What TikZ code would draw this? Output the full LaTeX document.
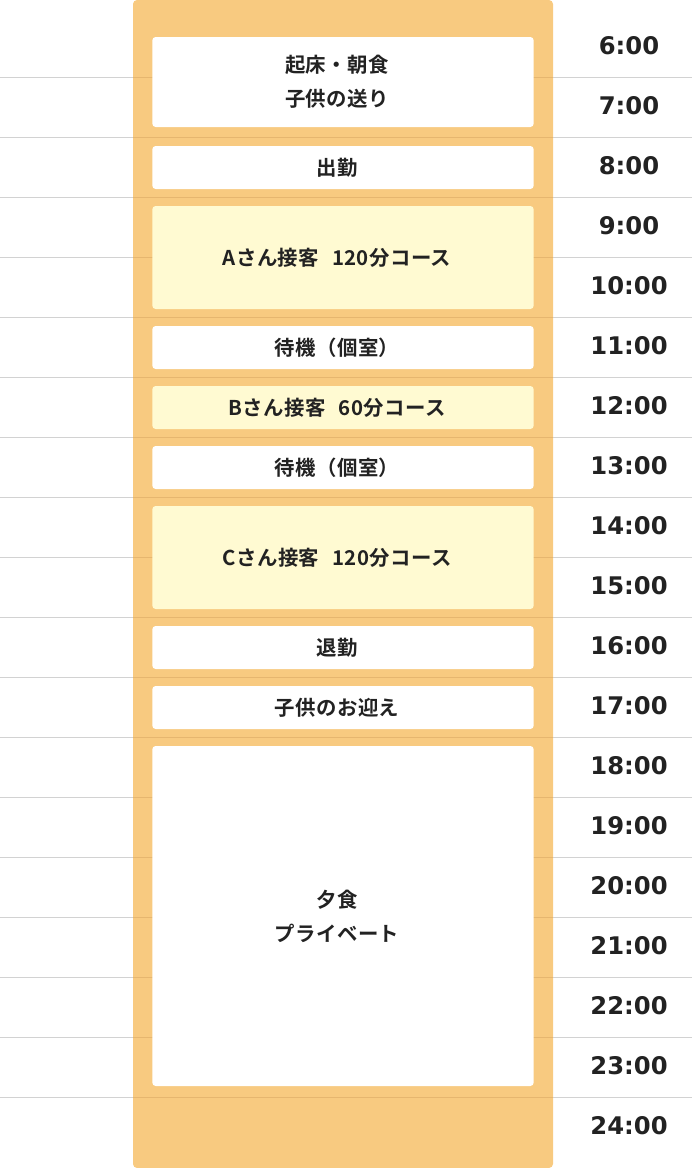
\documentclass[tikz,border=0pt]{standalone}
\usepackage{fontspec}
\usepackage{xcolor}
\usetikzlibrary{positioning}
\newfontfamily\jpfont{Noto Sans CJK JP Bold}[LetterSpace=2]
\newfontfamily\timefont{DejaVu Sans}
\definecolor{colbg}{HTML}{F8CA80}
\definecolor{colline}{HTML}{D2D2D2}
\definecolor{colmark}{HTML}{E6B66F}
\definecolor{guestbg}{HTML}{FFFAD2}
\definecolor{inktext}{HTML}{222222}
\newcommand{\gap}{\hspace{6pt}}

\begin{document}
\begin{tikzpicture}[x=0.75pt, y=-0.75pt,
		slot/.style={fill=white, rounded corners=2.5pt, minimum width=286pt, minimum height=32.25pt, inner sep=0pt},
		guest/.style={slot, fill=guestbg},
		tag/.style={align=center, inner sep=0pt, xshift=-4.5pt, text=inktext, font=\jpfont\fontsize{15.3}{25.5}\selectfont},
		hour/.style={text=inktext, font=\timefont\bfseries\fontsize{18.2}{20}\selectfont}]
		\useasboundingbox (0,0) rectangle (692,1168);

		% hour grid and the day column
		\foreach \k in {0,...,17}
			\draw[colline, line width=0.75pt] (0,77+60*\k) -- (692,77+60*\k);
		\fill[colbg, rounded corners=3pt] (133,0) rectangle (553,1168);
		\foreach \k in {0,...,17}
			\draw[colmark, line width=0.75pt] (133,77+60*\k) -- (553,77+60*\k);

		\node[slot, minimum height=67.5pt, label={[tag]center:起床・朝食\\子供の送り}] (wake) at (343,82) {};
		\node[slot, label={[tag]center:出勤}] (commute) at (343,167.5) {};
		\node[guest, minimum height=77.25pt, label={[tag]center:Aさん接客 \gap 120分コース}] (guestA) at (343,257.5) {};
		\node[slot, label={[tag]center:待機（個室）}] (waitA) at (343,347.5) {};
		\node[guest, label={[tag]center:Bさん接客 \gap 60分コース}] (guestB) at (343,407.5) {};
		\node[slot, label={[tag]center:待機（個室）}] (waitB) at (343,467.5) {};
		\node[guest, minimum height=77.25pt, label={[tag]center:Cさん接客 \gap 120分コース}] (guestC) at (343,557.5) {};
		\node[slot, label={[tag]center:退勤}] (leave) at (343,647.5) {};
		\node[slot, label={[tag]center:子供のお迎え}] (pickup) at (343,707.5) {};
		\node[slot, minimum height=255pt, label={[tag]center:夕食\\プライベート}] (evening) at (343,916) {};

		% times
		\foreach \h [count=\k from 0] in {6,...,24}
			\node[hour] (t\h) at (629,46+60*\k) {\h:00};
	\end{tikzpicture}
\end{document}
